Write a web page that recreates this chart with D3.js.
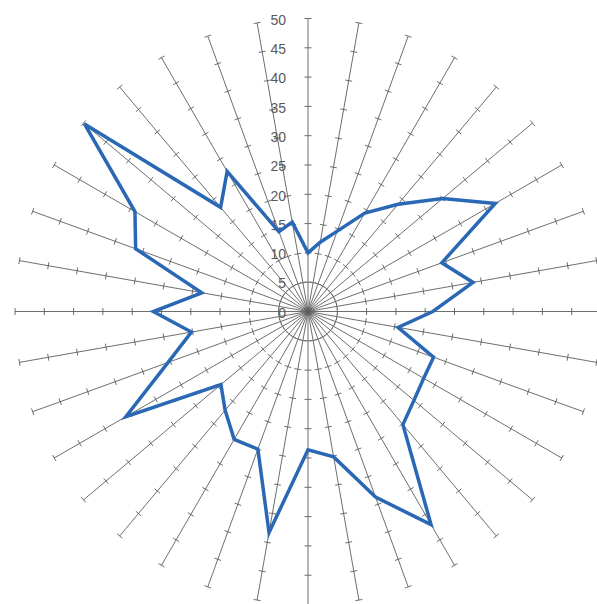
<!DOCTYPE html>
<html><head><meta charset="utf-8">
<script src="https://cdn.jsdelivr.net/npm/d3@7"></script>
<style>html,body{margin:0;padding:0;background:#fff;overflow:hidden}</style>
</head><body>
<svg id="chart" width="597" height="604"></svg>
<script>
// Categories: spoke angles in degrees, clockwise from top
const categories = [0,10,20,30,40,50,60,70,80,90,100,110,120,130,140,150,160,170,
  180,190,200,210,220,230,240,250,260,270,280,290,300,310,320,330,340,350];
// Series values
const values = [10,12,14.6,19.4,23.9,30,36.9,24.3,28.6,21.3,15.6,22.8,22.8,23.6,25.2,42,33.7,25.2,
  23.6,38.3,25,25.2,22,19.4,35.9,25.4,20.2,26.4,18.4,31.3,34.1,49.8,23.2,27.6,14.5,15.5];
// Radial axis tick labels
const tickValues = [0,5,10,15,20,25,30,35,40,45,50];

const svg = d3.select("#chart");
const cx = 308, cy = 311.5, R = 293;
const r = d3.scaleLinear().domain([0, 50]).range([0, R]);
const ang = d3.scaleLinear().domain([0, 360]).range([0, 2 * Math.PI]);
const g = svg.append("g").attr("transform", `translate(${cx},${cy})`);

// spokes
const spokes = g.append("g");
categories.forEach(c => {
  const a = ang(c);
  const sx = Math.sin(a), sy = -Math.cos(a);
  spokes.append("line")
    .attr("x1", 0).attr("y1", 0)
    .attr("x2", sx * r(50)).attr("y2", sy * r(50))
    .attr("stroke", "#5e5e5e").attr("stroke-width", 0.9);
  // perpendicular tick marks
  tickValues.slice(1).forEach(t => {
    const px = sx * r(t), py = sy * r(t);
    const nx = -sy * 3.5, ny = sx * 3.5;
    spokes.append("line")
      .attr("x1", px - nx).attr("y1", py - ny)
      .attr("x2", px + nx).attr("y2", py + ny)
      .attr("stroke", "#5e5e5e").attr("stroke-width", 0.9);
  });
});

// tick labels on vertical axis
g.append("g").selectAll("text").data(tickValues).join("text")
  .attr("x", -22).attr("y", d => -r(d) + 2.5)
  .attr("text-anchor", "end").attr("dominant-baseline", "middle")
  .attr("font-family", "Liberation Sans, Arial, sans-serif")
  .attr("font-size", 14).attr("fill", "#595959")
  .text(d => d);

// series line
const line = d3.lineRadial()
  .angle((d, i) => ang(categories[i]))
  .radius(d => r(d))
  .curve(d3.curveLinearClosed);
g.append("path").datum(values)
  .attr("d", line)
  .attr("fill", "none")
  .attr("stroke", "#2a68b5").attr("stroke-width", 3.5)
  .attr("stroke-linejoin", "miter");
</script>
</body></html>
